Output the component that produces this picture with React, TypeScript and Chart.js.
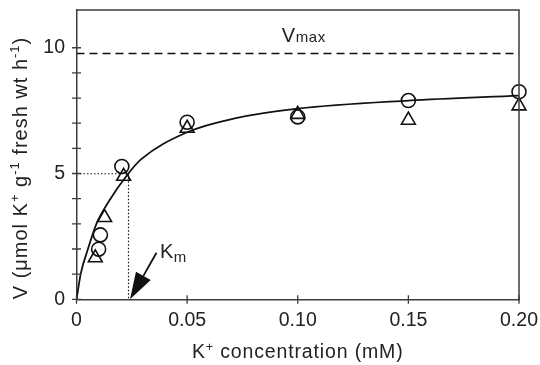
import React, { useEffect, useRef } from 'react';
import { Chart, registerables } from 'chart.js';

Chart.register(...registerables);

// ---- data ----
const curveX = [0, 0.002, 0.005, 0.009, 0.015, 0.023, 0.029, 0.05, 0.072, 0.1, 0.15, 0.2];
const curveY = [0, 1.05, 1.95, 3.0, 3.95, 4.95, 5.55, 6.64, 7.2, 7.58, 7.9, 8.1];
const circleX = [0.01, 0.0108, 0.0205, 0.05, 0.1, 0.15, 0.2];
const circleY = [1.99, 2.56, 5.28, 7.04, 7.25, 7.9, 8.25];
const triangleX = [0.0085, 0.0127, 0.0213, 0.05, 0.1, 0.15, 0.2];
const triangleY = [1.65, 3.25, 4.89, 6.8, 7.35, 7.12, 7.69];
const VMAX = 9.77;
const KM = 0.0235;
const HALF_V = 4.99;
const X_MIN = 0;
const X_MAX = 0.2;
const Y_MIN = 0;
const Y_MAX = 11.5;
const xTickValues = [0, 0.05, 0.1, 0.15, 0.2];
const xTickLabels = ['0', '0.05', '0.10', '0.15', '0.20'];
const yTickValues = [0, 5, 10];
const yTickLabels = ['0', '5', '10'];
const VMAX_LABEL_X = 0.0928;

const FONT = "'Liberation Sans', Arial, Helvetica, sans-serif";
const INK = '#111';
const AXIS = '#3c3c3c';
const TEXT = '#222';

type Seg = [string, number, number];

function drawRich(
  ctx: CanvasRenderingContext2D,
  segs: Seg[],
  x: number,
  y: number,
  align: 'left' | 'center',
  spacing = 0
) {
  (ctx as any).letterSpacing = `${spacing}px`;
  let total = 0;
  const widths: number[] = [];
  for (const s of segs) {
    ctx.font = `${s[1]}px ${FONT}`;
    const w = ctx.measureText(s[0]).width;
    widths.push(w);
    total += w;
  }
  let cx = align === 'center' ? x - total / 2 : x;
  ctx.textAlign = 'left';
  ctx.textBaseline = 'alphabetic';
  segs.forEach((s, i) => {
    ctx.font = `${s[1]}px ${FONT}`;
    ctx.fillText(s[0], cx, y + s[2]);
    cx += widths[i];
  });
  (ctx as any).letterSpacing = '0px';
}

const decorPlugin = {
  id: 'decor',
  afterDraw(chart: any) {
    const ctx: CanvasRenderingContext2D = chart.ctx;
    const { left, right, top, bottom } = chart.chartArea;
    const xs = chart.scales.x;
    const ys = chart.scales.y;
    ctx.save();

    // frame (top + right)
    ctx.strokeStyle = AXIS;
    ctx.lineWidth = 1.5;
    ctx.beginPath();
    ctx.moveTo(left, top);
    ctx.lineTo(right, top);
    ctx.lineTo(right, bottom);
    ctx.stroke();

    // crossing tick marks
    ctx.lineWidth = 1.3;
    ctx.beginPath();
    for (const t of ys.ticks) {
      if (Math.abs(t.value - Math.round(t.value)) > 1e-9) continue;
      const py = ys.getPixelForValue(t.value);
      ctx.moveTo(left - 4.5, py);
      ctx.lineTo(left + 4.5, py);
    }
    for (const v of xTickValues) {
      const px = xs.getPixelForValue(v);
      ctx.moveTo(px, bottom - 4);
      ctx.lineTo(px, bottom + 4.5);
    }
    ctx.stroke();

    // Km arrow
    const tipX = xs.getPixelForValue(KM) + 1.5;
    const tipY = ys.getPixelForValue(0);
    const tailX = tipX + 26.5;
    const tailY = tipY - 46.5;
    const ang = Math.atan2(tipY - tailY, tipX - tailX);
    const headLen = 27;
    const headW = 8.5;
    const bx = tipX - Math.cos(ang) * headLen;
    const by = tipY - Math.sin(ang) * headLen;
    ctx.strokeStyle = INK;
    ctx.fillStyle = INK;
    ctx.lineWidth = 1.8;
    ctx.beginPath();
    ctx.moveTo(tailX, tailY);
    ctx.lineTo(bx, by);
    ctx.stroke();
    ctx.beginPath();
    ctx.moveTo(tipX, tipY);
    ctx.lineTo(bx + Math.sin(ang) * headW, by - Math.cos(ang) * headW);
    ctx.lineTo(bx - Math.sin(ang) * headW, by + Math.cos(ang) * headW);
    ctx.closePath();
    ctx.fill();

    // labels
    ctx.fillStyle = TEXT;
    drawRich(ctx, [['K', 20, 0], ['m', 15, 4]], tipX + 30, tipY - 41, 'left', 0.5);
    drawRich(
      ctx,
      [['V', 20, 0], ['max', 15, 0]],
      xs.getPixelForValue(VMAX_LABEL_X),
      ys.getPixelForValue(VMAX) - 11.3,
      'left',
      0.6
    );

    // x title
    drawRich(
      ctx,
      [['K', 19.5, 0], ['+', 12.5, -7], [' concentration (mM)', 19.5, 0]],
      (left + right) / 2,
      358.3,
      'center',
      0.85
    );

    // y title (rotated)
    ctx.save();
    ctx.translate(26.5, 168);
    ctx.rotate(-Math.PI / 2);
    drawRich(
      ctx,
      [
        ['V (μmol K', 20, 0],
        ['+', 13, -7.5],
        [' g', 20, 0],
        ['-1', 13, -7.5],
        [' fresh wt h', 20, 0],
        ['-1', 13, -7.5],
        [')', 20, 0],
      ],
      0,
      0,
      'center',
      1.0
    );
    ctx.restore();

    ctx.restore();
  },
};

export default function App() {
  const ref = useRef<HTMLCanvasElement | null>(null);

  useEffect(() => {
    if (!ref.current) return;
    const pts = (xs: number[], ys: number[]) => xs.map((x, i) => ({ x, y: ys[i] }));
    const chart = new Chart(ref.current, {
      type: 'scatter',
      data: {
        datasets: [
          {
            label: 'fit',
            data: pts(curveX, curveY),
            showLine: true,
            borderColor: INK,
            borderWidth: 1.8,
            pointRadius: 0,
            cubicInterpolationMode: 'monotone',
            fill: false,
          } as any,
          {
            label: 'Vmax',
            data: [
              { x: X_MIN, y: VMAX },
              { x: X_MAX, y: VMAX },
            ],
            showLine: true,
            borderColor: INK,
            borderWidth: 1.5,
            borderDash: [8, 5],
            pointRadius: 0,
          } as any,
          {
            label: 'Km',
            data: [
              { x: X_MIN, y: HALF_V },
              { x: KM, y: HALF_V },
              { x: KM, y: Y_MIN },
            ],
            showLine: true,
            borderColor: INK,
            borderWidth: 1.2,
            borderDash: [1.5, 2],
            pointRadius: 0,
          } as any,
          {
            label: 'circles',
            data: pts(circleX, circleY),
            pointStyle: 'circle',
            pointRadius: 7,
            borderColor: INK,
            borderWidth: 1.6,
            backgroundColor: 'rgba(0,0,0,0)',
            showLine: false,
            clip: false,
          } as any,
          {
            label: 'triangles',
            data: pts(triangleX, triangleY),
            pointStyle: 'triangle',
            pointRadius: 8,
            borderColor: INK,
            borderWidth: 1.6,
            backgroundColor: 'rgba(0,0,0,0)',
            showLine: false,
            clip: false,
          } as any,
        ],
      },
      options: {
        animation: false,
        responsive: false,
        maintainAspectRatio: false,
        events: [],
        layout: { padding: { left: 0, right: 21, top: 10, bottom: 0 } },
        plugins: { legend: { display: false }, tooltip: { enabled: false } },
        scales: {
          x: {
            type: 'linear',
            min: X_MIN,
            max: X_MAX,
            grid: { display: false, drawTicks: false },
            border: { display: true, color: AXIS, width: 1.5 },
            afterBuildTicks: (scale: any) => {
              scale.ticks = xTickValues.map((v) => ({ value: v }));
            },
            afterFit: (scale: any) => {
              scale.height = 65.7;
              scale.paddingLeft = 0;
              scale.paddingRight = 0;
              scale.paddingTop = 0;
              scale.paddingBottom = 0;
            },
            ticks: {
              autoSkip: false,
              maxRotation: 0,
              padding: 10,
              color: TEXT,
              font: { family: FONT, size: 19.5 },
              callback: (v: any) => {
                const i = xTickValues.findIndex((t) => Math.abs(t - Number(v)) < 1e-9);
                return i >= 0 ? xTickLabels[i] : '';
              },
            },
          },
          y: {
            type: 'linear',
            min: Y_MIN,
            max: Y_MAX,
            grid: { display: false, drawTicks: false },
            border: { display: true, color: AXIS, width: 1.5 },
            afterFit: (scale: any) => {
              scale.width = 76.5;
              scale.paddingLeft = 0;
              scale.paddingRight = 0;
              scale.paddingTop = 0;
              scale.paddingBottom = 0;
            },
            ticks: {
              autoSkip: false,
              stepSize: 1,
              padding: 11.5,
              color: TEXT,
              font: { family: FONT, size: 19.5 },
              callback: (v: any) => {
                const i = yTickValues.findIndex((t) => Math.abs(t - Number(v)) < 1e-9);
                return i >= 0 ? yTickLabels[i] : '';
              },
            },
          },
        },
      } as any,
      plugins: [decorPlugin],
    });
    return () => chart.destroy();
  }, []);

  return (
    <div style={{ position: 'fixed', left: 0, top: 0, width: 540, height: 365, background: '#fff' }}>
      <canvas ref={ref} width={540} height={365} style={{ display: 'block', width: 540, height: 365 }} />
    </div>
  );
}
